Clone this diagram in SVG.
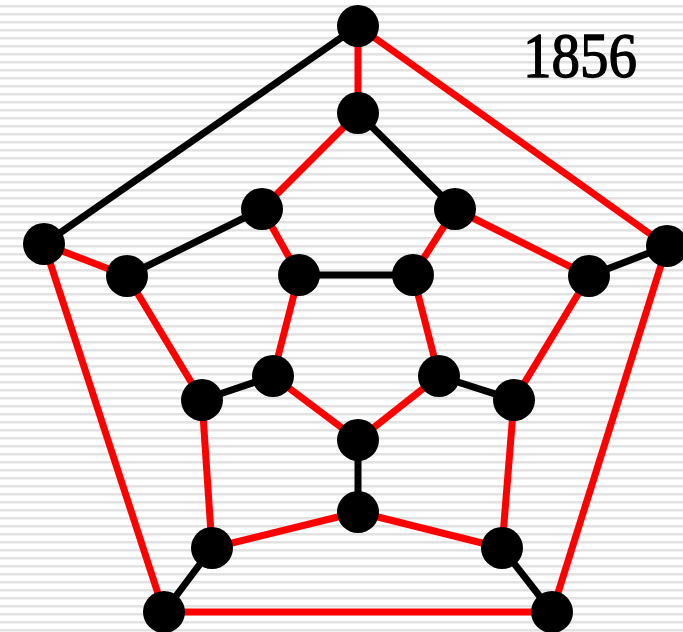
<svg xmlns="http://www.w3.org/2000/svg" width="683" height="632" viewBox="0 0 683 632">
<defs>
<pattern id="stripes" x="0" y="5" width="683" height="8" patternUnits="userSpaceOnUse">
<rect x="0" y="0" width="683" height="8" fill="#ffffff"/>
<rect x="0" y="0" width="683" height="2" fill="#e2e2e2"/>
<rect x="0" y="2" width="683" height="1" fill="#efefef"/>
</pattern>
<style>
.r{stroke:#ff0000;stroke-width:7;fill:none}
.b{stroke:#000000;stroke-width:7;fill:none}
.n{fill:#000000}
.t{font-family:"Liberation Serif","Times New Roman",serif;font-size:64px;fill:#000000;stroke:#000000;stroke-width:1.3}
</style>
</defs>
<rect x="0" y="0" width="683" height="632" fill="url(#stripes)"/>
<g id="connectors">
<line class="r" x1="358" y1="26" x2="358" y2="113"/>
<line class="r" x1="358" y1="26" x2="667" y2="246"/>
<line class="b" x1="358" y1="26" x2="44" y2="244"/>
<line class="r" x1="44" y1="244" x2="127" y2="276"/>
<line class="r" x1="44" y1="244" x2="164" y2="612"/>
<line class="b" x1="667" y1="246" x2="589" y2="276"/>
<line class="r" x1="667" y1="246" x2="552" y2="612"/>
<line class="r" x1="164" y1="612" x2="552" y2="612"/>
<line class="b" x1="552" y1="612" x2="502" y2="548"/>
<line class="b" x1="164" y1="612" x2="212" y2="548"/>
<line class="r" x1="358" y1="113" x2="262" y2="209"/>
<line class="b" x1="358" y1="113" x2="455" y2="209"/>
<line class="r" x1="455" y1="209" x2="589" y2="276"/>
<line class="r" x1="455" y1="209" x2="413" y2="275"/>
<line class="r" x1="589" y1="276" x2="514" y2="400"/>
<line class="b" x1="514" y1="400" x2="439" y2="376"/>
<line class="r" x1="514" y1="400" x2="502" y2="548"/>
<line class="r" x1="502" y1="548" x2="358" y2="512"/>
<line class="b" x1="358" y1="512" x2="358" y2="440"/>
<line class="r" x1="358" y1="512" x2="212" y2="548"/>
<line class="r" x1="212" y1="548" x2="202" y2="400"/>
<line class="b" x1="202" y1="400" x2="273" y2="376"/>
<line class="r" x1="202" y1="400" x2="127" y2="276"/>
<line class="b" x1="127" y1="276" x2="262" y2="209"/>
<line class="r" x1="262" y1="209" x2="299" y2="275"/>
<line class="b" x1="299" y1="275" x2="413" y2="275"/>
<line class="r" x1="299" y1="275" x2="273" y2="376"/>
<line class="r" x1="413" y1="275" x2="439" y2="376"/>
<line class="r" x1="439" y1="376" x2="358" y2="440"/>
<line class="r" x1="358" y1="440" x2="273" y2="376"/>
</g>
<g id="nA"><circle class="n" cx="358" cy="26" r="21"/></g>
<g id="nB"><circle class="n" cx="667" cy="246" r="21"/></g>
<g id="nC"><circle class="n" cx="552" cy="612" r="21"/></g>
<g id="nD"><circle class="n" cx="164" cy="612" r="21"/></g>
<g id="nE"><circle class="n" cx="44" cy="244" r="21"/></g>
<g id="nF"><circle class="n" cx="358" cy="113" r="21"/></g>
<g id="nG"><circle class="n" cx="455" cy="209" r="21"/></g>
<g id="nH"><circle class="n" cx="589" cy="276" r="21"/></g>
<g id="nI"><circle class="n" cx="514" cy="400" r="21"/></g>
<g id="nJ"><circle class="n" cx="502" cy="548" r="21"/></g>
<g id="nK"><circle class="n" cx="358" cy="512" r="21"/></g>
<g id="nL"><circle class="n" cx="212" cy="548" r="21"/></g>
<g id="nM"><circle class="n" cx="202" cy="400" r="21"/></g>
<g id="nN"><circle class="n" cx="127" cy="276" r="21"/></g>
<g id="nO"><circle class="n" cx="262" cy="209" r="21"/></g>
<g id="nP"><circle class="n" cx="299" cy="275" r="21"/></g>
<g id="nQ"><circle class="n" cx="413" cy="275" r="21"/></g>
<g id="nR"><circle class="n" cx="439" cy="376" r="21"/></g>
<g id="nS"><circle class="n" cx="358" cy="440" r="21"/></g>
<g id="nT"><circle class="n" cx="273" cy="376" r="21"/></g>
<text class="t" x="523" y="77" textLength="114" lengthAdjust="spacingAndGlyphs">1856</text>
</svg>
